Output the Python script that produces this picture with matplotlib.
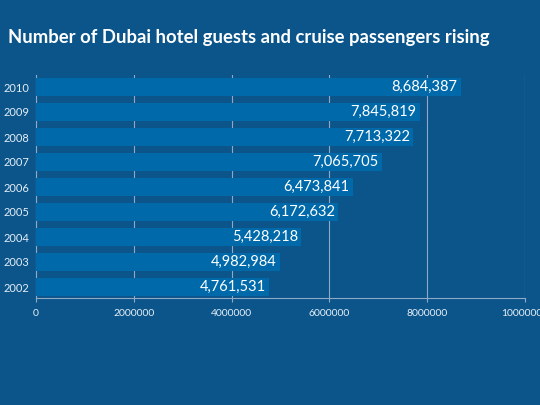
import matplotlib.pyplot as plt

years = ['2002', '2003', '2004', '2005', '2006', '2007', '2008', '2009', '2010']
guests = [4761531, 4982984, 5428218, 6172632, 6473841, 7065705, 7713322, 7845819, 8684387]
xticks = [0, 2000000, 4000000, 6000000, 8000000, 10000000]

bg = '#0b558b'
bar_color = '#0069aa'
line_color = '#8fa9c6'
font = ['Lato', 'DejaVu Sans']

fig = plt.figure(figsize=(5.4, 4.05), dpi=100, facecolor=bg)
ax = fig.add_axes([36 / 540, 107 / 405, 489 / 540, 223 / 405], facecolor=bg)

pos = range(len(years))
ax.barh(pos, guests, height=0.72, color=bar_color, zorder=2)
for i, v in enumerate(guests):
    ax.text(v - 60000, i, f'{v:,}', ha='right', va='center', color='white',
            fontsize=10.5, family=font, zorder=3)

ax.set_xlim(0, 10000000)
ax.set_ylim(-0.44, 8.48)
ax.set_xticks(xticks)
ax.set_xticklabels([str(t) for t in xticks], color='#e6eef6', fontsize=7.5, family=font)
ax.set_yticks(list(pos))
ax.set_yticklabels(years, color='#e6eef6', fontsize=8, family=font)
ax.tick_params(axis='y', length=0, pad=5)
ax.tick_params(axis='x', length=3, color=line_color, pad=5)
ax.grid(axis='x', color=line_color, linewidth=0.8, zorder=0)
ax.set_axisbelow(True)
for s in ['top', 'right']:
    ax.spines[s].set_visible(False)
for s in ['left', 'bottom']:
    ax.spines[s].set_color(line_color)
    ax.spines[s].set_linewidth(0.8)
ax.spines['left'].set_zorder(0)

title = fig.text(8 / 540, 1 - 38 / 405, 'Number of Dubai hotel guests and cruise passengers rising',
                 color='white', fontsize=16, fontweight='bold', family=font,
                 va='center', ha='left')
# shrink the title until it fits the same width as the original
fig.canvas.draw()
w = title.get_window_extent().width
title.set_fontsize(16 * 482 / w)

fig.savefig('out.png', dpi=100, facecolor=bg)
